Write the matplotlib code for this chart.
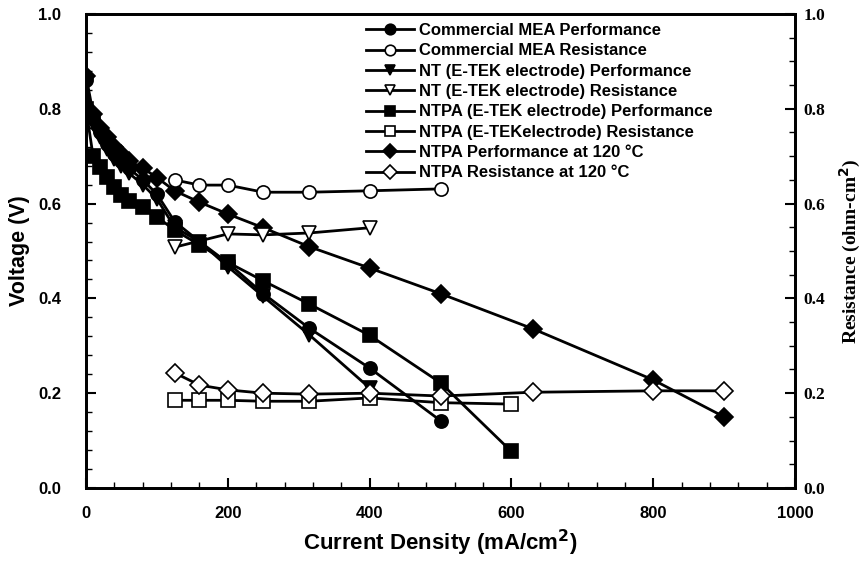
import numpy as np
import matplotlib
matplotlib.use("Agg")
from matplotlib import pyplot as plt
from matplotlib.ticker import MultipleLocator, FormatStrFormatter

# current density (mA/cm2)
x_com_perf = [0, 10, 20, 30, 40, 50, 60, 80, 100, 125, 160, 200, 250, 315, 400, 500]
v_com_perf = [0.86, 0.78, 0.75, 0.725, 0.705, 0.69, 0.675, 0.65, 0.62, 0.562, 0.52, 0.475, 0.41, 0.337, 0.253, 0.142]

x_com_res = [125, 160, 200, 250, 315, 400, 500]
r_com_res = [0.650, 0.639, 0.639, 0.624, 0.624, 0.627, 0.631]

x_nt_perf = [0, 10, 20, 30, 40, 50, 60, 80, 100, 125, 160, 200, 250, 315, 400]
v_nt_perf = [0.85, 0.77, 0.74, 0.715, 0.695, 0.68, 0.665, 0.64, 0.61, 0.55, 0.52, 0.467, 0.404, 0.323, 0.211]

x_nt_res = [125, 200, 250, 315, 400]
r_nt_res = [0.508, 0.536, 0.534, 0.538, 0.549]

x_ntpa_perf = [0, 10, 20, 30, 40, 50, 60, 80, 100, 125, 160, 200, 250, 315, 400, 500, 600]
v_ntpa_perf = [0.80, 0.70, 0.677, 0.656, 0.635, 0.618, 0.605, 0.593, 0.572, 0.544, 0.513, 0.476, 0.437, 0.388, 0.322, 0.222, 0.077]

x_ntpa_res = [125, 160, 200, 250, 315, 400, 500, 600]
r_ntpa_res = [0.185, 0.185, 0.185, 0.183, 0.183, 0.19, 0.18, 0.177]

x_120_perf = [0, 10, 20, 30, 40, 50, 60, 80, 100, 125, 160, 200, 250, 315, 400, 500, 630, 800, 900]
v_120_perf = [0.87, 0.79, 0.76, 0.74, 0.72, 0.705, 0.69, 0.675, 0.655, 0.627, 0.603, 0.578, 0.549, 0.509, 0.464, 0.41, 0.336, 0.228, 0.150]

x_120_res = [125, 160, 200, 250, 315, 400, 500, 630, 800, 900]
r_120_res = [0.243, 0.217, 0.207, 0.200, 0.198, 0.200, 0.194, 0.202, 0.205, 0.205]

labels = [
    "Commercial MEA Performance",
    "Commercial MEA Resistance",
    "NT (E-TEK electrode) Performance",
    "NT (E-TEK electrode) Resistance",
    "NTPA (E-TEK electrode) Performance",
    "NTPA (E-TEKelectrode) Resistance",
    "NTPA Performance at 120 \u00b0C",
    "NTPA Resistance at 120 \u00b0C",
]

plt.rcParams["font.family"] = ["Liberation Sans", "DejaVu Sans"]
plt.rcParams["font.weight"] = "bold"
serif = ["Liberation Serif", "DejaVu Serif"]

fig = plt.figure(figsize=(8.67, 5.62), dpi=100)
ax = fig.add_axes([0.0992, 0.1317, 0.8178, 0.8434])
ax2 = ax.twinx()

common = dict(color="black", lw=2.0, ms=9.5, mec="black", mew=1.2)

h = []
h += ax.plot(x_com_perf, v_com_perf, marker="o", mfc="black", **common)
h += ax2.plot(x_com_res, r_com_res, marker="o", mfc="white", **common)
h += ax.plot(x_nt_perf, v_nt_perf, marker="v", mfc="black", **common)
h += ax2.plot(x_nt_res, r_nt_res, marker="v", mfc="white", **common)
h += ax.plot(x_ntpa_perf, v_ntpa_perf, marker="s", mfc="black", **common)
h += ax2.plot(x_ntpa_res, r_ntpa_res, marker="s", mfc="white", **common)
h += ax.plot(x_120_perf, v_120_perf, marker="D", mfc="black", **common)
h += ax2.plot(x_120_res, r_120_res, marker="D", mfc="white", **common)

for a in (ax, ax2):
    a.set_xlim(0, 1000)
    a.set_ylim(0, 1.0)
    for s in a.spines.values():
        s.set_linewidth(2)

ax.xaxis.set_major_locator(MultipleLocator(200))
ax.xaxis.set_minor_locator(MultipleLocator(40))
ax.yaxis.set_major_locator(MultipleLocator(0.2))
ax.yaxis.set_minor_locator(MultipleLocator(0.04))
ax2.yaxis.set_major_locator(MultipleLocator(0.2))
ax2.yaxis.set_minor_locator(MultipleLocator(0.05))

ax.tick_params(axis="both", which="both", direction="in", top=False, labelsize=12)
ax.tick_params(which="major", length=7, width=1.5)
ax.tick_params(which="minor", length=4, width=1)
ax.tick_params(axis="x", pad=13)
ax.tick_params(axis="y", pad=18)
ax2.tick_params(axis="y", which="both", direction="in", labelsize=12.5, pad=6)
ax2.tick_params(which="major", length=7, width=1.5)
ax2.tick_params(which="minor", length=4, width=1)
ax.yaxis.set_major_formatter(FormatStrFormatter("%.1f"))
ax2.yaxis.set_major_formatter(FormatStrFormatter("%.1f"))
for t in ax2.get_yticklabels():
    t.set_family(serif)
    t.set_weight("bold")

ax.set_xlabel("Current Density (mA/cm$^\\mathbf{2}$)", fontsize=16, fontweight="bold", labelpad=5)
ax.set_ylabel("Voltage (V)", fontsize=15.5, fontweight="bold", labelpad=6)
ax2.set_ylabel("Resistance (ohm-cm$^\\mathbf{2}$)", fontsize=14, fontweight="bold",
               family=serif, labelpad=9)

leg = ax.legend(h, labels, loc="upper left", bbox_to_anchor=(0.385, 0.995), frameon=False,
                fontsize=12, handlelength=2.9, handletextpad=0.3, labelspacing=0.32,
                borderaxespad=0.0, markerscale=0.8)
for t in leg.get_texts():
    t.set_fontweight("bold")

fig.savefig("out.png", dpi=100, facecolor="white")
